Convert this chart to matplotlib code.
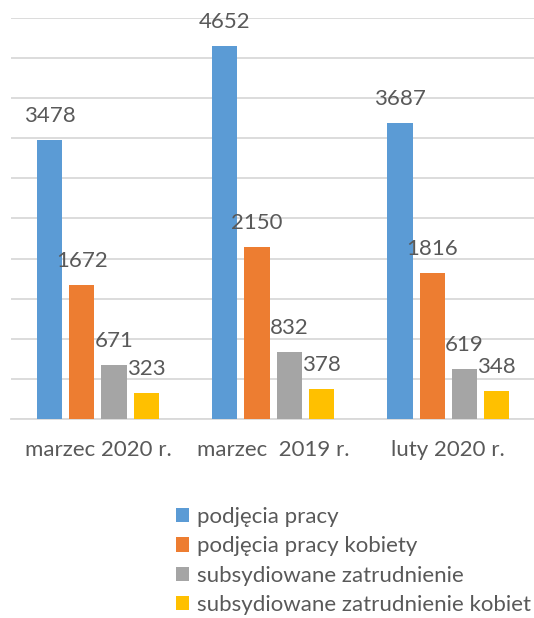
import matplotlib.pyplot as plt
import numpy as np

# data
categories = ['marzec 2020 r.', 'marzec  2019 r.', 'luty 2020 r.']
series_names = ['podjęcia pracy', 'podjęcia pracy kobiety',
                'subsydiowane zatrudnienie', 'subsydiowane zatrudnienie kobiet']
podjecia = [3478, 4652, 3687]
podjecia_kobiety = [1672, 2150, 1816]
subsydiowane = [671, 832, 619]
subsydiowane_kobiety = [323, 378, 348]
colors = ['#5B9BD5', '#ED7D31', '#A5A5A5', '#FFC000']

plt.rcParams['font.family'] = ['Lato', 'DejaVu Sans']
text_color = '#595959'

fig = plt.figure(figsize=(5.34, 6.18), dpi=100)
ax = fig.add_axes([11 / 534, 199 / 618, 1 - 11 / 534, 401 / 618])

x = np.arange(len(categories))
width = 0.143
step = 0.183
all_series = [podjecia, podjecia_kobiety, subsydiowane, subsydiowane_kobiety]
for j, (vals, name, c) in enumerate(zip(all_series, series_names, colors)):
    pos = x + (j - 1.5) * step
    ax.bar(pos, vals, width, color=c, label=name, zorder=3)
    for px, v in zip(pos, vals):
        ax.annotate(str(v), (px, v), xytext=(0, 13), textcoords='offset points',
                    ha='center', va='baseline', fontsize=16, color=text_color)

ax.set_xlim(-0.497, 2.491)
ax.set_ylim(0, 5000)
ax.set_yticks(np.arange(0, 5001, 500))
ax.set_yticklabels([])
ax.tick_params(axis='y', length=0)
ax.grid(axis='y', color='#D9D9D9', linewidth=1.3, zorder=0)
ax.set_xticks(x)
ax.set_xticklabels(categories, fontsize=16, color=text_color)
ax.tick_params(axis='x', length=0, pad=15)
for s in ['top', 'right', 'left']:
    ax.spines[s].set_visible(False)
ax.spines['bottom'].set_color('#D9D9D9')
ax.spines['bottom'].set_linewidth(1.3)

handles, labels = ax.get_legend_handles_labels()
fig.legend(handles, labels, loc='upper left', bbox_to_anchor=(176 / 534, 1 - 507 / 618),
           frameon=False, fontsize=16, labelcolor=text_color,
           handlelength=0.6, handleheight=0.6, handletextpad=0.35, labelspacing=0.42,
           borderaxespad=0, borderpad=0)

plt.savefig('out.png', dpi=100)
